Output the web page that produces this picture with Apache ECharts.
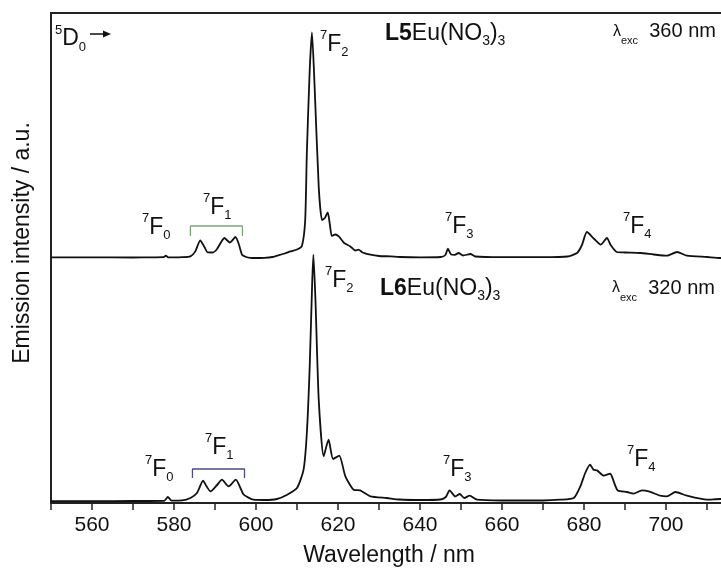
<!DOCTYPE html>
<html>
<head>
<meta charset="utf-8">
<script src="https://cdn.jsdelivr.net/npm/echarts@6/dist/echarts.min.js"></script>
<style>
  html, body { margin: 0; padding: 0; background: #fff; }
  #main { width: 721px; height: 568px; }
</style>
</head>
<body>
<div id="main"></div>
<script>
// wavelengths (nm) and intensity (a.u., upper trace already offset)
const wlTop = [550, 560, 570, 575, 577.4, 578.0, 578.6, 580, 582, 584.0, 585.2, 586.4, 587.3, 588.2, 589.4, 590.5, 591.5, 592.3, 593.0, 593.6, 594.3, 595.0, 595.8, 596.6, 597.6, 598.6, 600, 602, 604, 605.1, 607, 608.4, 610.0, 611.2, 612.0, 612.4, 613.1, 613.65, 614.3, 615.3, 616.1, 616.8, 617.5, 618.0, 618.5, 619.3, 620.2, 621.5, 623.0, 624.2, 625.0, 626, 627.9, 630, 632.8, 635, 640, 645, 646.2, 646.8, 647.6, 648.5, 649.4, 650.5, 652.3, 653.5, 660, 670, 676, 678.3, 679.5, 680.7, 682.5, 684.1, 685.6, 686.5, 688.0, 690, 693.7, 697, 700.2, 702.7, 705.1, 710, 713.2, 720];
const intTop = [245.6, 245.6, 245.5, 245.7, 245.8, 247.3, 245.7, 245.6, 245.8, 246.6, 251.6, 262.6, 257, 250.6, 250.5, 254, 261, 265, 262.5, 260.5, 263, 266, 259, 248.3, 246, 245.2, 245, 245.2, 246, 247.3, 249.5, 251.6, 253.5, 257, 283, 350, 433, 470.6, 416, 316, 283, 285, 290.6, 279, 267, 268.5, 266.6, 260, 256.6, 252.5, 253.3, 250.5, 248.3, 247, 246.6, 246, 245.6, 246, 248, 254.3, 248.5, 248.2, 250, 247.5, 249, 246.5, 245.8, 245.8, 246.5, 250, 258, 271, 264, 258.3, 265, 258, 251, 250.5, 250, 248.5, 247.3, 251, 247.3, 246, 245, 245];

const wlBottom = [550, 560, 570, 577.6, 578.5, 579.4, 582, 584.0, 585.6, 587.1, 587.9, 588.9, 590.5, 591.7, 593.3, 595.1, 596.2, 597.0, 599.4, 602, 605.1, 607.6, 610.0, 611.6, 612.4, 613.1, 613.7, 614.0, 614.5, 615.3, 616.5, 617.7, 618.8, 620.3, 621.8, 623.8, 625.4, 627.9, 631.9, 635, 640, 645, 646.3, 647.2, 648.6, 649.7, 650.8, 652.1, 653.9, 660, 670, 674.2, 677.5, 679.1, 680.3, 681.5, 682.3, 683.2, 684.8, 686.4, 686.8, 688.2, 690.5, 692.1, 694.1, 695.8, 698.6, 700.2, 702.3, 705.1, 710.0, 713.2, 720];
const intBottom = [1.8, 1.8, 2, 2.2, 6, 2.4, 2.6, 5, 10, 22.3, 17, 11.6, 18, 23.3, 16.6, 23.3, 15, 8.3, 3.3, 3, 4, 8.3, 15, 33.3, 70, 136.6, 220, 248.3, 203.3, 103.3, 46.6, 63.3, 44, 47.3, 26.6, 13.3, 12.6, 6.6, 5, 3.5, 3, 3.5, 6, 12.6, 6.6, 9, 5, 7.3, 3.3, 2.5, 2.5, 3.3, 5, 16.6, 30, 38.3, 33.3, 32.6, 27.3, 29.3, 26.6, 12.6, 11, 9.3, 12.6, 11.6, 7.3, 6.6, 11, 7.3, 3.3, 4, 3];

// 7F1 brackets
const bracketTop = [[584.0, 267], [584.0, 277], [596.7, 277], [596.7, 267]];
const bracketBottom = [[584.5, 25], [584.5, 34], [597.2, 34], [597.2, 25]];

const xTicks = { min: 550, max: 720, step: 10, labelStep: 20 };

const FONT = "'Liberation Sans', Arial, sans-serif";
const myChart = echarts.init(document.getElementById('main'));

function pairs(xs, ys) {
  return xs.map((x, i) => [x, ys[i]]);
}

// 7F_n style label : sup + big letter + sub
const richTerm = {
  s: { fontSize: 13, lineHeight: 22, verticalAlign: 'top', fontFamily: FONT, fill: '#111' },
  m: { fontSize: 23, lineHeight: 30, fontFamily: FONT, fill: '#111' },
  b: { fontSize: 13, lineHeight: 6, verticalAlign: 'bottom', fontFamily: FONT, fill: '#111' }
};
function term(x, y, sup, main, sub) {
  return {
    type: 'text', left: x, top: y,
    style: { text: '{s|' + sup + '}{m|' + main + '}{b|' + sub + '}', rich: richTerm }
  };
}

const richName = {
  k: { fontSize: 23, lineHeight: 30, fontWeight: 'bold', fontFamily: FONT, fill: '#111' },
  m: { fontSize: 23, lineHeight: 30, fontFamily: FONT, fill: '#111' },
  b: { fontSize: 14, lineHeight: 19, verticalAlign: 'bottom', fontFamily: FONT, fill: '#111' }
};
function compound(x, y, ligand) {
  return {
    type: 'text', left: x, top: y,
    style: { text: '{k|' + ligand + '}{m|Eu(NO}{b|3}{m|)}{b|3}', rich: richName }
  };
}

const richExc = {
  l: { fontSize: 16, lineHeight: 30, fontFamily: FONT, fill: '#111' },
  e: { fontSize: 11, lineHeight: 15, verticalAlign: 'bottom', fontFamily: FONT, fill: '#111' },
  n: { fontSize: 20, lineHeight: 30, fontFamily: FONT, fill: '#111' }
};
function excitation(x, y, nm) {
  return {
    type: 'text', left: x, top: y,
    style: { text: '{l|λ}{e|exc}{n|  ' + nm + ' nm}', rich: richExc }
  };
}

const option = {
  animation: false,
  backgroundColor: '#fff',
  grid: {
    // plot box runs past the right edge of the picture
    left: 51, top: 13, width: 697, height: 490,
    outerBoundsMode: 'none',
    show: true, borderColor: '#222', borderWidth: 2
  },
  xAxis: {
    type: 'value',
    min: xTicks.min, max: xTicks.max, interval: xTicks.step,
    axisLine: { show: true, onZero: false, lineStyle: { color: '#222', width: 2 } },
    axisTick: { show: true, length: 7, lineStyle: { color: '#222', width: 1.5 } },
    axisLabel: {
      color: '#111', fontSize: 21, fontFamily: FONT, margin: 12,
      formatter: (v) => (v % xTicks.labelStep === 0 ? String(v) : '')
    },
    splitLine: { show: false }
  },
  yAxis: {
    type: 'value', min: 0, max: 490,
    axisLine: { show: false }, axisTick: { show: false },
    axisLabel: { show: false }, splitLine: { show: false }
  },
  series: [
    {
      name: 'L5Eu(NO3)3', type: 'line', data: pairs(wlTop, intTop),
      showSymbol: false, smooth: 0.2,
      lineStyle: { color: '#111', width: 1.8 }
    },
    {
      name: 'L6Eu(NO3)3', type: 'line', data: pairs(wlBottom, intBottom),
      showSymbol: false, smooth: 0.2,
      lineStyle: { color: '#111', width: 1.8 }
    },
    {
      type: 'line', data: bracketTop, showSymbol: false,
      lineStyle: { color: '#7aa77a', width: 1.3 }
    },
    {
      type: 'line', data: bracketBottom, showSymbol: false,
      lineStyle: { color: '#4a4a8a', width: 1.3 }
    }
  ],
  graphic: [
    // 5D0 ->
    term(55, 23.6, '5', 'D', '0'),
    { type: 'line', shape: { x1: 90, y1: 34, x2: 104, y2: 34 }, style: { stroke: '#111', lineWidth: 1.5 } },
    { type: 'polygon', shape: { points: [[103, 30.5], [111, 34], [103, 37.5]] }, style: { fill: '#111' } },
    // upper trace
    term(142, 212.3, '7', 'F', '0'),
    term(203, 192.3, '7', 'F', '1'),
    term(320, 29.3, '7', 'F', '2'),
    term(445, 211.3, '7', 'F', '3'),
    term(623, 211.3, '7', 'F', '4'),
    compound(385, 22, 'L5'),
    excitation(613, 21.4, '360'),
    // lower trace
    term(145, 454.3, '7', 'F', '0'),
    term(205, 432.3, '7', 'F', '1'),
    term(325, 265.3, '7', 'F', '2'),
    term(443, 454.3, '7', 'F', '3'),
    term(627, 444.3, '7', 'F', '4'),
    compound(380, 277, 'L6'),
    excitation(612, 278, '320'),
    // axis titles
    {
      type: 'text', x: 389, y: 556,
      style: { text: 'Wavelength / nm', font: '23px ' + FONT, fill: '#111', align: 'center', verticalAlign: 'middle' }
    },
    {
      type: 'text', x: 23, y: 243, rotation: Math.PI / 2,
      style: { text: 'Emission intensity / a.u.', font: '23px ' + FONT, fill: '#111', align: 'center', verticalAlign: 'middle' }
    }
  ]
};

myChart.setOption(option);
</script>
</body>
</html>
